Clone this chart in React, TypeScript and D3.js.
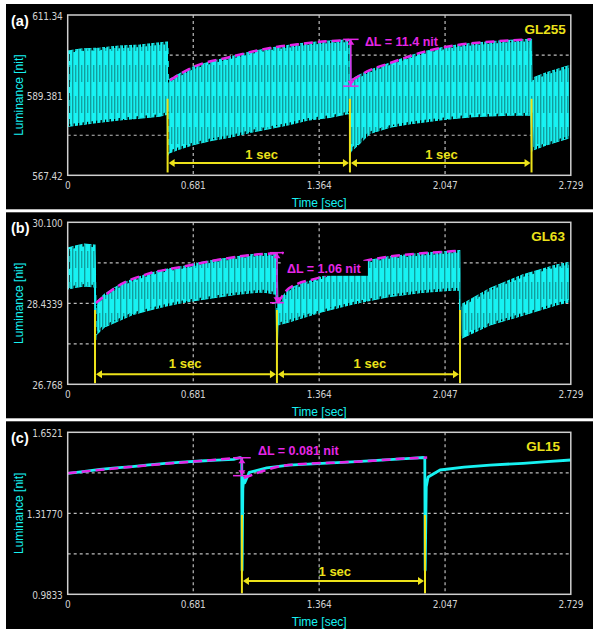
import React from "react";
import * as d3 from "d3";

const W = 593;
const H = 629;
const T_MAX = 2.729;
const xTickLabels = ["0", "0.681", "1.364", "2.047", "2.729"];

// ---------- (a) GL255 ----------
const aYLabels = ["567.42", "589.381", "611.34"];
const aTime = [0, 0.07, 0.175, 0.28, 0.39, 0.5, 0.54, 0.543, 0.547, 0.6, 0.68, 0.78, 0.88, 0.99, 1.1, 1.2, 1.3, 1.42, 1.528, 1.533, 1.536, 1.58, 1.639, 1.748, 1.85, 1.927, 2.02, 2.111, 2.2, 2.29, 2.4, 2.512, 2.516, 2.52, 2.6, 2.729];
const aUpper = [601.46, 602.0, 602.3, 602.8, 603.1, 603.7, 603.9, 603.9, 593.5, 595.0, 597.1, 598.6, 599.8, 601.2, 602.3, 603.0, 603.7, 604.2, 604.5, 604.5, 593.5, 594.8, 596.2, 598.2, 600.0, 601.2, 602.3, 603.1, 603.6, 604.0, 604.4, 604.7, 604.7, 594.0, 595.6, 597.6];
const aLower = [580.87, 581.3, 581.97, 582.6, 583.1, 583.6, 584.2, 572.9, 573.5, 574.5, 575.8, 577.0, 577.85, 579.2, 580.3, 581.3, 582.5, 583.3, 584.4, 573.5, 574.0, 576.0, 578.9, 580.6, 581.5, 582.0, 582.6, 583.1, 583.5, 583.7, 583.9, 584.0, 573.8, 574.3, 575.8, 577.8];
const aFit1T = [0.555, 0.68, 0.88, 1.097, 1.26, 1.422, 1.526];
const aFit1V = [593.5, 597.07, 599.81, 602.28, 603.38, 604.2, 604.48];
const aFit2T = [1.542, 1.639, 1.748, 1.927, 2.111, 2.29, 2.513];
const aFit2V = [593.5, 596.24, 598.16, 601.18, 603.1, 604.01, 604.67];
const aSteps = [0.542, 1.531, 2.516];
const aStepRange = [568.2, 588.4];
const aArrowV = 570.8;
const aSecT = [1.052, 2.028];
const aSecV = 573.2;
const aDelta = { t: 1.536, top: 604.67, bottom: 591.85, half: 0.042, textT: 1.612, textV: 604.2, text: "ΔL = 11.4 nit" };
const aGL = { t: 2.702, v: 607.41, text: "GL255" };

// ---------- (b) GL63 ----------
const bYLabels = ["26.768", "28.4339", "30.100"];
const bTime = [0, 0.04, 0.09, 0.146, 0.148, 0.153, 0.2, 0.267, 0.35, 0.446, 0.535, 0.625, 0.72, 0.81, 0.9, 0.989, 1.06, 1.13, 1.135, 1.14, 1.2, 1.38, 1.56, 1.74, 1.92, 2.1, 2.125, 2.128, 2.133, 2.29, 2.47, 2.65, 2.729];
const bUpper = [29.57, 29.61, 29.65, 29.63, 29.63, 28.44, 28.62, 28.78, 28.93, 29.05, 29.13, 29.19, 29.27, 29.33, 29.38, 29.43, 29.45, 29.46, 29.46, 28.44, 28.74, 28.98, 29.26, 29.39, 29.46, 29.51, 29.52, 29.52, 28.40, 28.74, 29.02, 29.22, 29.28];
const bLower = [28.73, 28.76, 28.79, 28.77, 27.34, 27.78, 27.95, 28.06, 28.2, 28.3, 28.38, 28.45, 28.51, 28.56, 28.61, 28.65, 28.67, 28.62, 27.31, 27.99, 28.05, 28.26, 28.43, 28.57, 28.66, 28.71, 28.7, 27.37, 27.71, 27.99, 28.19, 28.40, 28.47];
const bFit1T = [0.153, 0.267, 0.446, 0.625, 0.81, 0.989, 1.13, 1.17];
const bFit1V = [28.44, 28.775, 29.051, 29.187, 29.325, 29.427, 29.462, 29.47];
const bFit2T = [1.14, 1.2, 1.38, 1.56, 1.74, 1.92, 2.1, 2.128];
const bFit2V = [28.44, 28.742, 28.981, 29.257, 29.392, 29.462, 29.51, 29.52];
const bSteps = [0.148, 1.135, 2.128];
const bStepRange = [26.79, 28.296];
const bArrowV = 26.974;
const bSecT = [0.637, 1.639];
const bSecV = 27.19;
const bDelta = { t: 1.135, top: 29.475, bottom: 28.446, half: 0.038, textT: 1.189, textV: 29.154, text: "ΔL = 1.06 nit" };
const bGL = { t: 2.697, v: 29.818, text: "GL63" };

// ---------- (c) GL15 ----------
const cYLabels = ["0.9833", "1.31770", "1.6521"];
const cTime = [0, 0.06, 0.175, 0.26, 0.35, 0.44, 0.53, 0.62, 0.72, 0.81, 0.9, 0.935, 0.944, 0.946, 0.95, 0.955, 0.96, 0.985, 1.08, 1.2, 1.38, 1.567, 1.7, 1.857, 1.93, 1.937, 1.939, 1.945, 1.955, 2.02, 2.15, 2.29, 2.47, 2.6, 2.729];
const cValue = [1.4828, 1.488, 1.4993, 1.505, 1.5101, 1.518, 1.5241, 1.529, 1.5336, 1.537, 1.5406, 1.5473, 1.545, 1.083, 1.42, 1.4634, 1.443, 1.487, 1.505, 1.517, 1.524, 1.5307, 1.537, 1.5448, 1.548, 1.546, 1.083, 1.4275, 1.4676, 1.4965, 1.508, 1.517, 1.5241, 1.531, 1.5377];
const cFit1T = [0, 0.35, 0.72, 0.94];
const cFit1V = [1.4828, 1.5101, 1.5336, 1.5473];
const cFit2T = [0.955, 1.2, 1.567, 1.857, 1.95];
const cFit2V = [1.4634, 1.517, 1.5307, 1.5448, 1.548];
const cSteps = [0.945, 1.938];
const cStepRange = [0.9871, 1.3107];
const cArrowV = 1.0382;
const cSecT = [1.449];
const cSecV = 1.0766;
const cDelta = { t: 0.945, top: 1.547, bottom: 1.473, half: 0.048, textT: 1.032, textV: 1.579, text: "ΔL = 0.081 nit" };
const cGL = { t: 2.67, v: 1.5943, text: "GL15" };

const CYAN = "#17f2f2";
const DARK = "#0f6e6e";
const MAGENTA = "#e526e5";
const YELLOW = "#ece21a";
const GRID = "#bdbdbd";
const FRAME = "#cfcfcf";
const TICK = "#d2d2d2";

const PL = 67.7;
const PR = 570.8;

type Cfg = {
  tag: string;
  bgTop: number;
  bgBottom: number;
  top: number;
  bottom: number;
  yLabels: string[];
  band?: { t: number[]; up: number[]; lo: number[] };
  line?: { t: number[]; v: number[] };
  fits: [number[], number[]][];
  steps: number[];
  stepRange: number[];
  arrowV: number;
  secT: number[];
  secV: number;
  delta: { t: number; top: number; bottom: number; half: number; textT: number; textV: number; text: string };
  deltaBox?: boolean;
  gl: { t: number; v: number; text: string };
};

const panels: Cfg[] = [
  { tag: "(a)", bgTop: 4, bgBottom: 209.3, top: 15, bottom: 175.3, yLabels: aYLabels, band: { t: aTime, up: aUpper, lo: aLower }, fits: [[aFit1T, aFit1V], [aFit2T, aFit2V]], steps: aSteps, stepRange: aStepRange, arrowV: aArrowV, secT: aSecT, secV: aSecV, delta: aDelta, gl: aGL },
  { tag: "(b)", bgTop: 212.3, bgBottom: 418.3, top: 222.3, bottom: 384.3, yLabels: bYLabels, band: { t: bTime, up: bUpper, lo: bLower }, fits: [[bFit1T, bFit1V], [bFit2T, bFit2V]], steps: bSteps, stepRange: bStepRange, arrowV: bArrowV, secT: bSecT, secV: bSecV, delta: bDelta, deltaBox: true, gl: bGL },
  { tag: "(c)", bgTop: 421.3, bgBottom: 629, top: 432.3, bottom: 594.3, yLabels: cYLabels, line: { t: cTime, v: cValue }, fits: [[cFit1T, cFit1V], [cFit2T, cFit2V]], steps: cSteps, stepRange: cStepRange, arrowV: cArrowV, secT: cSecT, secV: cSecV, delta: cDelta, gl: cGL },
];

function tri(x: number, y: number, dir: "l" | "r" | "u" | "d", len: number, half: number) {
  if (dir === "l") return `M${x},${y}L${x + len},${y - half}L${x + len},${y + half}Z`;
  if (dir === "r") return `M${x},${y}L${x - len},${y - half}L${x - len},${y + half}Z`;
  if (dir === "u") return `M${x},${y}L${x - half},${y + len}L${x + half},${y + len}Z`;
  return `M${x},${y}L${x - half},${y - len}L${x + half},${y - len}Z`;
}

const tickFont = "'Liberation Sans Narrow', 'DejaVu Sans Condensed', 'Arial Narrow', sans-serif";
const mainFont = "'Liberation Sans', Arial, Helvetica, sans-serif";

function Panel({ cfg, idx }: { cfg: Cfg; idx: number }) {
  const yMin = parseFloat(cfg.yLabels[0]);
  const yMax = parseFloat(cfg.yLabels[2]);
  const x = d3.scaleLinear().domain([0, T_MAX]).range([PL, PR]);
  const y = d3.scaleLinear().domain([yMin, yMax]).range([cfg.bottom, cfg.top]);
  const hGrid = [0.25, 0.5, 0.75].map((f) => yMin + (yMax - yMin) * f);
  const vGrid = xTickLabels.slice(1, 4).map(parseFloat);
  const clipId = `clip${idx}`;

  let bandPath = "";
  if (cfg.band) {
    const b = cfg.band;
    const area = d3
      .area<number>()
      .x((i) => x(b.t[i]))
      .y0((i) => y(b.lo[i]))
      .y1((i) => y(b.up[i]));
    bandPath = area(d3.range(b.t.length)) || "";
  }
  let linePath = "";
  if (cfg.line) {
    const l = cfg.line;
    const line = d3
      .line<number>()
      .x((i) => x(l.t[i]))
      .y((i) => y(l.v[i]));
    linePath = line(d3.range(l.t.length)) || "";
  }
  const fitLine = d3
    .line<[number, number]>()
    .x((d) => x(d[0]))
    .y((d) => y(d[1]))
    .curve(d3.curveMonotoneX);

  const midY = (cfg.top + cfg.bottom) / 2;
  const d = cfg.delta;
  const dx = x(d.t);
  const dTop = y(d.top);
  const dBot = y(d.bottom);
  const halfPx = x(d.half) - x(0);

  return (
    <g>
      <rect x={6} y={cfg.bgTop} width={W - 6} height={cfg.bgBottom - cfg.bgTop} fill="#000" />
      <defs>
        <clipPath id={clipId}>
          <rect x={PL} y={cfg.top} width={PR - PL} height={cfg.bottom - cfg.top} />
        </clipPath>
      </defs>
      {hGrid.map((v, i) => (
        <line key={"h" + i} x1={PL} x2={PR} y1={y(v)} y2={y(v)} stroke={GRID} strokeWidth={1.2} strokeDasharray="3 3" />
      ))}
      {vGrid.map((t, i) => (
        <line key={"v" + i} x1={x(t)} x2={x(t)} y1={cfg.top} y2={cfg.bottom} stroke={GRID} strokeWidth={1.2} strokeDasharray="3 3" />
      ))}
      <g clipPath={`url(#${clipId})`}>
        {bandPath && (
          <>
            <path d={bandPath} fill={CYAN} stroke={CYAN} strokeWidth={1.2} />
            <path d={bandPath} fill="url(#stripes)" />
            <path d={bandPath} fill="none" stroke="url(#stripes2)" strokeWidth={4} />
          </>
        )}
        {linePath && <path d={linePath} fill="none" stroke={CYAN} strokeWidth={2.8} strokeLinejoin="round" />}
      </g>
      {cfg.steps.map((t, i) => (
        <line key={"s" + i} x1={x(t)} x2={x(t)} y1={y(cfg.stepRange[1])} y2={y(cfg.stepRange[0])} stroke={YELLOW} strokeWidth={2} />
      ))}
      {cfg.steps.slice(0, -1).map((t, i) => {
        const x1 = x(t) + 1;
        const x2 = x(cfg.steps[i + 1]) - 1;
        const ay = y(cfg.arrowV);
        return (
          <g key={"a" + i}>
            <line x1={x1 + 4} x2={x2 - 4} y1={ay} y2={ay} stroke={YELLOW} strokeWidth={2} />
            <path d={tri(x1, ay, "l", 6, 4)} fill={YELLOW} />
            <path d={tri(x2, ay, "r", 6, 4)} fill={YELLOW} />
          </g>
        );
      })}
      {cfg.secT.map((t, i) => (
        <text key={"t" + i} x={x(t)} y={y(cfg.secV)} dy="0.36em" textAnchor="middle" fill={YELLOW} fontFamily={mainFont} fontWeight="bold" fontSize={13}>
          1 sec
        </text>
      ))}
      {cfg.fits.map((f, i) => (
        <path key={"f" + i} d={fitLine(f[0].map((t, j) => [t, f[1][j]] as [number, number])) || ""} fill="none" stroke={MAGENTA} strokeWidth={2.5} strokeDasharray="9 5" />
      ))}
      <line x1={dx} x2={dx} y1={dTop} y2={dBot} stroke={MAGENTA} strokeWidth={1.5} />
      <line x1={dx - halfPx} x2={dx + halfPx} y1={dTop} y2={dTop} stroke={MAGENTA} strokeWidth={1.5} />
      <line x1={dx - halfPx} x2={dx + halfPx} y1={dBot} y2={dBot} stroke={MAGENTA} strokeWidth={1.5} />
      <path d={tri(dx, dTop + 0.5, "u", 5, 3.5)} fill={MAGENTA} />
      <path d={tri(dx, dBot - 0.5, "d", 5, 3.5)} fill={MAGENTA} />
      {cfg.deltaBox && <rect x={x(d.textT) - 4} y={y(d.textV) - 7.5} width={85} height={15} fill="#000" />}
      <text x={x(d.textT)} y={y(d.textV)} dy="0.36em" fill={MAGENTA} fontFamily={mainFont} fontWeight="bold" fontSize={12.5}>
        {d.text}
      </text>
      <text x={x(cfg.gl.t)} y={y(cfg.gl.v)} dy="0.36em" textAnchor="end" fill={YELLOW} fontFamily={mainFont} fontWeight="bold" fontSize={13.5}>
        {cfg.gl.text}
      </text>
      <rect x={PL} y={cfg.top} width={PR - PL} height={cfg.bottom - cfg.top} fill="none" stroke={FRAME} strokeWidth={1.5} />
      {cfg.yLabels.map((s, i) => (
        <text key={"yl" + i} x={62.5} y={y(parseFloat(s)) + 1.5} dy="0.35em" textAnchor="end" fill={TICK} fontFamily={tickFont} fontSize={10} letterSpacing={-0.2}>
          {s}
        </text>
      ))}
      {xTickLabels.map((s, i) => (
        <text key={"xl" + i} x={x(parseFloat(s))} y={cfg.bottom + 13.2} textAnchor="middle" fill={TICK} fontFamily={tickFont} fontSize={10} letterSpacing={-0.2}>
          {s}
        </text>
      ))}
      <text x={11} y={cfg.top + 11} fill="#fff" fontFamily={mainFont} fontWeight="bold" fontSize={14.5}>
        {cfg.tag}
      </text>
      <text transform={`translate(23,${midY}) rotate(-90)`} textAnchor="middle" fill={CYAN} fontFamily={mainFont} fontSize={12}>
        Luminance [nit]
      </text>
      <text x={(PL + PR) / 2} y={cfg.bottom + 31.5} textAnchor="middle" fill={CYAN} fontFamily={mainFont} fontSize={12}>
        Time [sec]
      </text>
    </g>
  );
}

export default function App() {
  return (
    <svg width={W} height={H} style={{ position: "absolute", left: 0, top: 0, display: "block" }} xmlns="http://www.w3.org/2000/svg">
      <rect x={0} y={0} width={W} height={H} fill="#fff" />
      <defs>
        <pattern id="stripes" patternUnits="userSpaceOnUse" width={6} height={31}>
          <rect x={0.2} y={0} width={1.1} height={31} fill={DARK} opacity={0.8} />
          <rect x={3.2} y={3} width={1.1} height={17} fill={DARK} opacity={0.75} />
        </pattern>
        <pattern id="stripes2" patternUnits="userSpaceOnUse" width={9} height={13}>
          <rect x={1.5} y={0} width={1.4} height={13} fill="#000" />
          <rect x={6} y={2} width={1.2} height={7} fill="#000" />
        </pattern>
      </defs>
      {panels.map((p, i) => (
        <Panel key={i} cfg={p} idx={i} />
      ))}
    </svg>
  );
}
